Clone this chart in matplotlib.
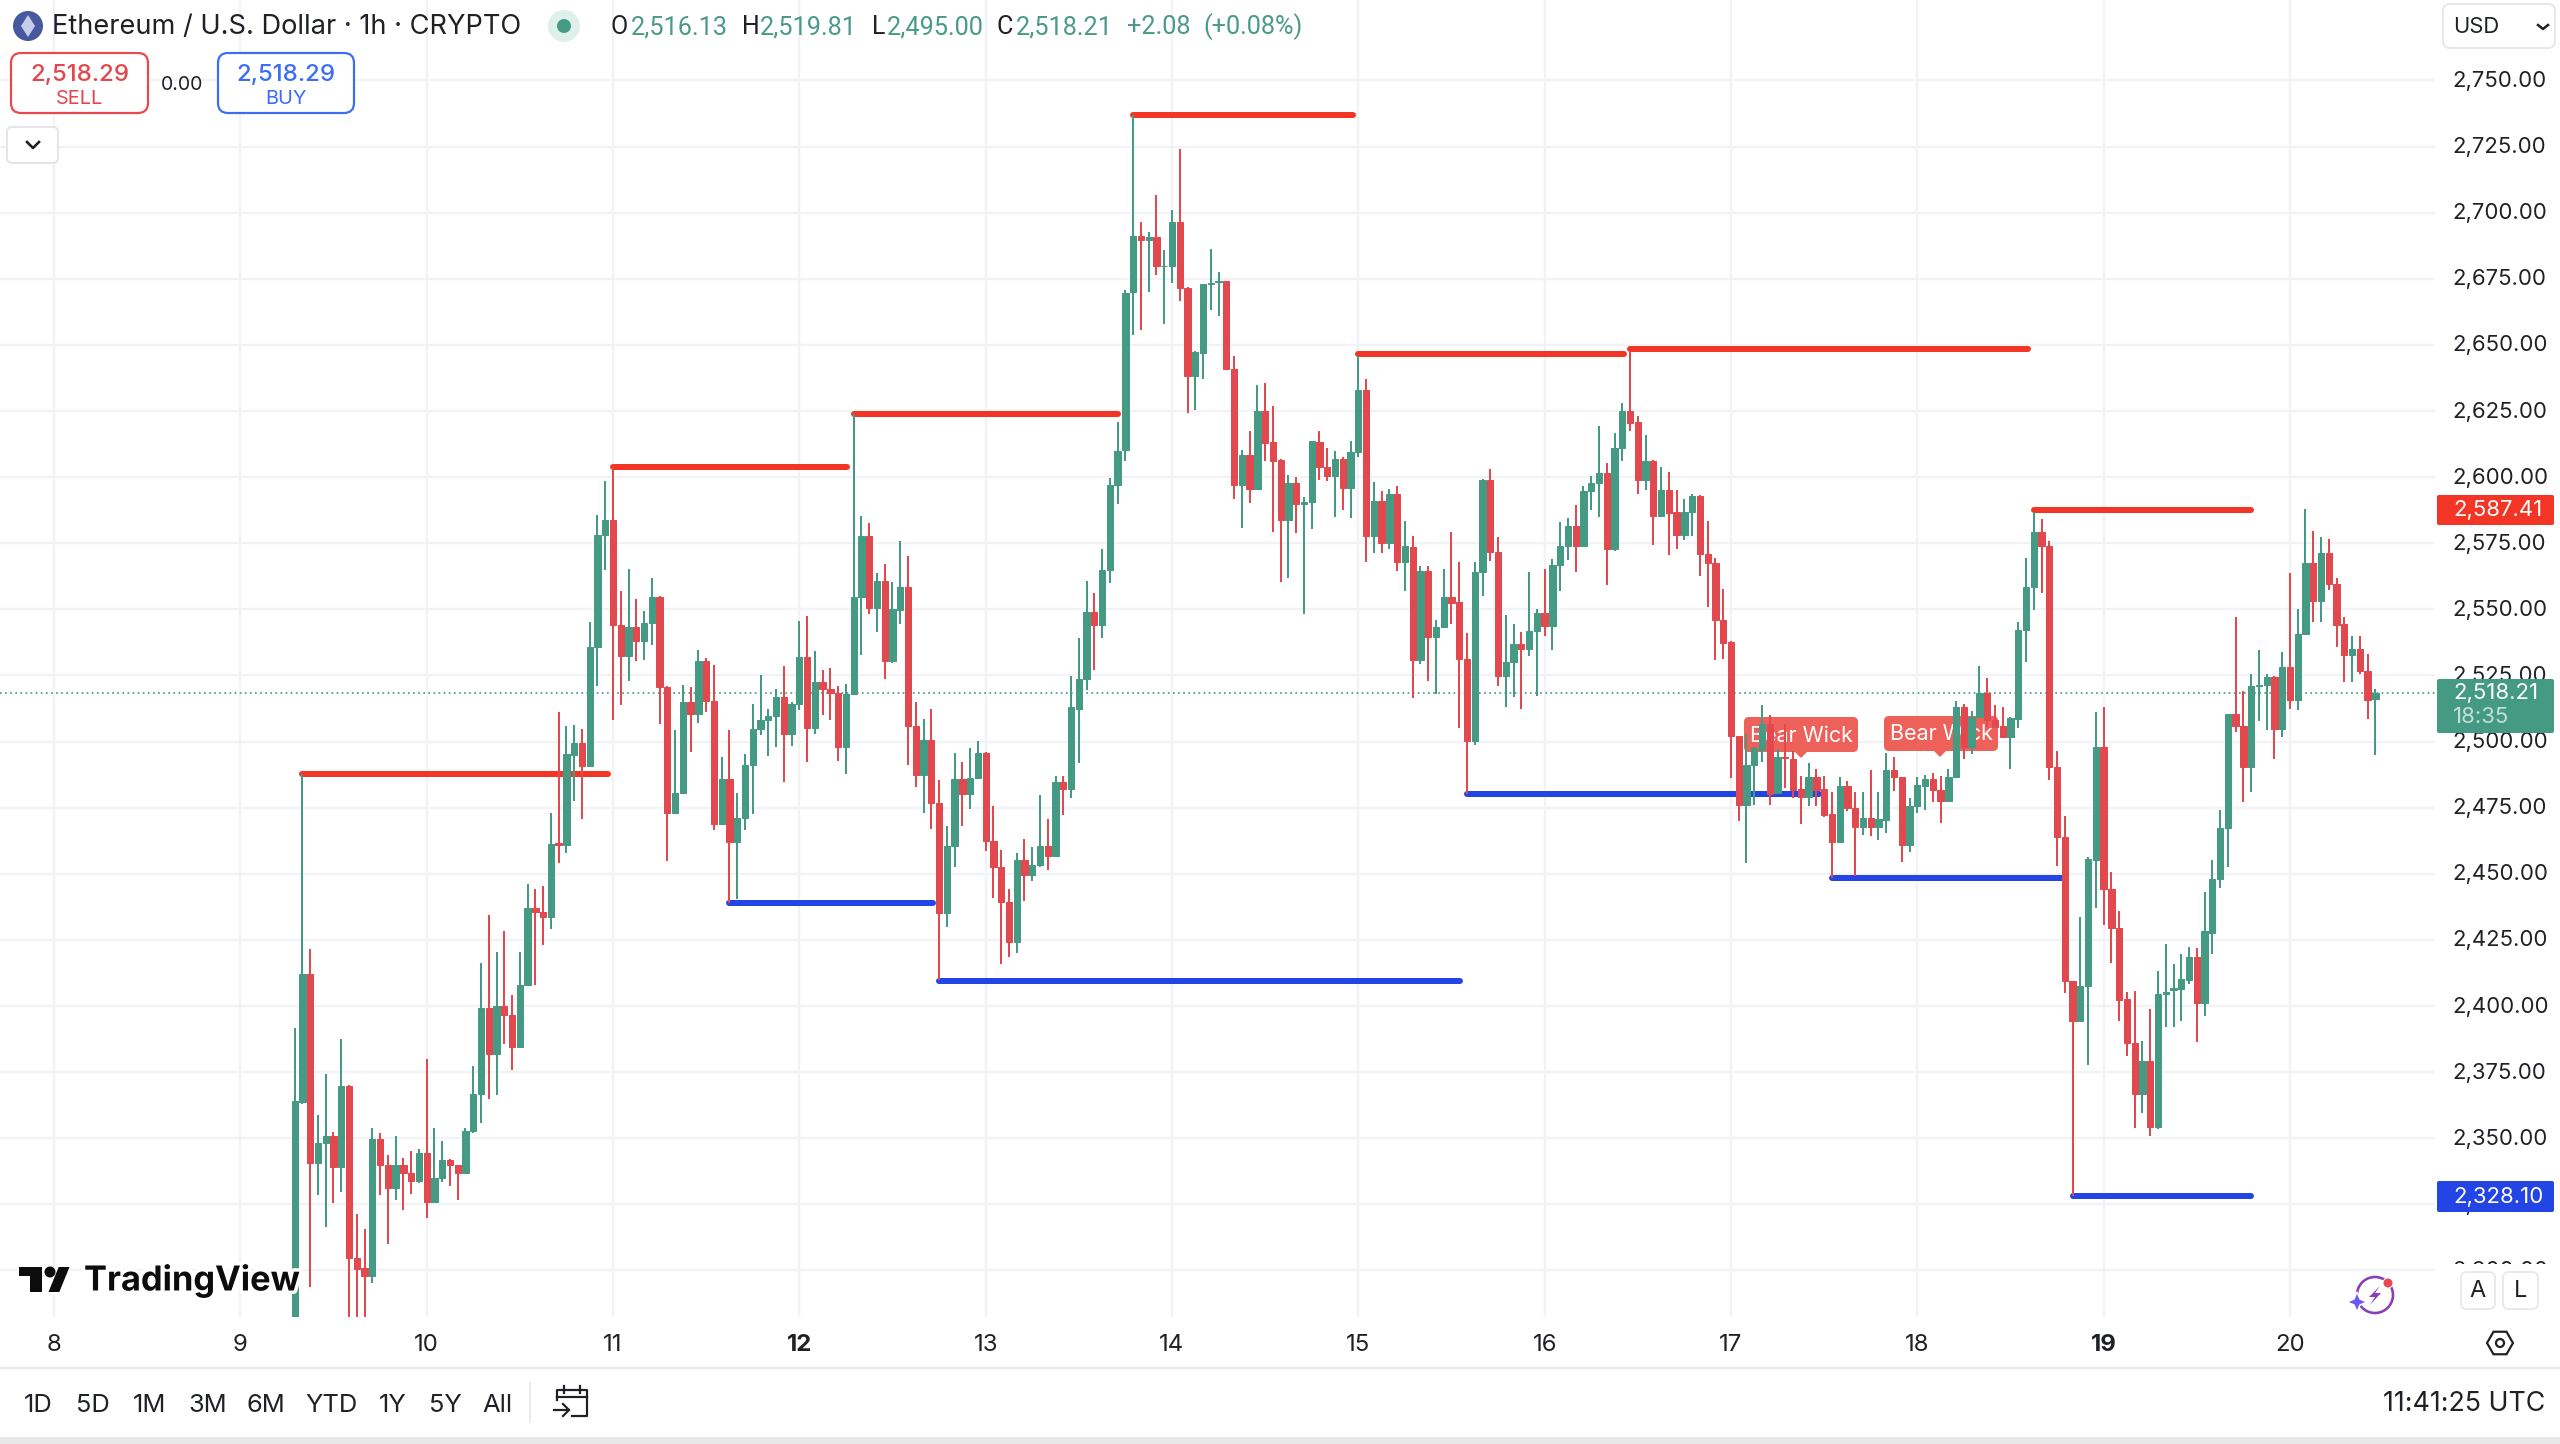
import matplotlib
matplotlib.use("Agg")
import matplotlib.pyplot as plt
from matplotlib.patches import FancyBboxPatch, Rectangle, Circle, Polygon, Ellipse, RegularPolygon, Arc
from matplotlib.ticker import FuncFormatter
from matplotlib.transforms import ScaledTranslation
import matplotlib.patheffects as pe

plt.rcParams['font.family'] = ['Inter', 'DejaVu Sans']

# ---------- data ----------
first_candle_day = 9 + 7 / 24
open_ = [
 2270,2363.7,2412,2340.8,2348.2,2351,2339.3,2369.9,2304.9,2301,
 2297.9,2349.9,2339.7,2331.2,2339.7,2337,2334,2344.6,2326,2335,
 2341.8,2339.7,2336.7,2352.7,2366.9,2399.4,2381.7,2400,2396.6,2384.5,
 2407.9,2437.2,2435.5,2433.8,2461.6,2461,2495,2499.4,2490.7,2535.7,
 2578,2583.9,2544,2532.5,2543.3,2538,2545,2554.6,2520.8,2473,
 2480.7,2515,2510.4,2530.6,2515.5,2469,2485.8,2462,2471,2491,
 2504.7,2508,2509.8,2516.9,2503,2514.4,2532,2505,2522.7,2520,
 2518.3,2497.9,2518,2554.5,2577.7,2550.7,2560.9,2530.6,2549.7,2558.4,
 2506,2487.5,2500.7,2476.8,2435,2460.4,2485.9,2480,2486.2,2495.7,
 2462.6,2452.4,2439.3,2424.4,2455.2,2449.4,2453.2,2460.7,2456.8,2484.6,
 2482,2512.4,2523.8,2549,2544.2,2565,2596.9,2610.1,2669.9,2691.2,
 2689.7,2691,2679.7,2679.7,2696.6,2671.7,2638.4,2647,2672.9,2673.7,
 2674,2641,2596.9,2608.2,2595.6,2625.1,2613.3,2606.6,2583.8,2597.8,
 2589.8,2590.5,2613.3,2604,2600.3,2606.8,2595.9,2609.5,2633,2577.7,
 2591,2575.2,2593.7,2567.9,2573.6,2530.9,2564.5,2539.5,2543.3,2554.6,
 2552.7,2531.3,2500.3,2564.1,2599,2571.7,2524.7,2530,2537,2535,
 2541.8,2548.6,2543.9,2566.6,2573.8,2581.4,2574,2594.7,2597.8,2601.5,
 2573,2610.9,2625.1,2620.8,2598.8,2606.3,2585.2,2595.2,2586.7,2578.1,
 2586.7,2593,2571,2567.5,2545.8,2537.5,2502,2476.1,2491.1,2496.9,
 2506.7,2480.4,2494.3,2493.3,2482.1,2478.9,2486.6,2482.1,2472.6,2461.9,
 2483.2,2474.9,2467.8,2471,2467.6,2470.5,2489.3,2486.5,2460.8,2475.5,
 2483.3,2485.8,2481.8,2477.6,2486.5,2513.2,2497.8,2509.2,2518.3,2508.2,
 2505.8,2501.9,2508.5,2542.1,2558.4,2579.2,2574.1,2490.5,2463.9,2409.4,
 2394.2,2407.7,2455.4,2497.9,2444.1,2429.4,2402.5,2386,2366.6,2379.2,
 2354.4,2404.6,2406.1,2406.3,2410,2418.5,2401.3,2427.7,2448.1,2467.2,
 2510.4,2505.8,2490.5,2521,2521.4,2524.5,2504.9,2528.3,2515.8,2540.6,
 2567.4,2553.3,2571.4,2559.6,2544.5,2532.8,2535.1,2526.8,2516.13]
close = [
 2364,2412,2340.8,2348.2,2351,2339.3,2369.9,2304.9,2300.6,2297.9,
 2349.9,2339.7,2331.2,2339.7,2337,2334,2344.6,2326,2335,2341.8,
 2340,2336.7,2352.9,2366.9,2399.4,2381.7,2400,2396.6,2384.5,2407.9,
 2437.2,2435.5,2433.8,2461.4,2461,2495.3,2499.4,2490.7,2535.7,2578,
 2583.9,2544,2532.5,2543.3,2538,2545,2554.6,2520.8,2473,2480.7,
 2515,2510.4,2530.6,2515.5,2469,2485.8,2462,2471,2491,2504.7,
 2508,2509.8,2516.9,2503,2514.4,2532,2505,2522.7,2520,2518.3,
 2497.9,2518,2554.6,2577.7,2550.7,2560.9,2530.6,2550,2558.4,2506,
 2487.5,2500.7,2476.8,2435,2460.7,2485.9,2480,2486.2,2495.7,2462.6,
 2452.4,2439.3,2424.4,2455.2,2449.4,2453.2,2460.7,2456.8,2484.6,2482,
 2513,2523.8,2549,2544.2,2565,2596.9,2610,2669.6,2691.2,2689.7,
 2690.7,2679.7,2680,2696.6,2671.4,2638.4,2647.2,2672.9,2673.5,2674.3,
 2641,2596.9,2608.2,2595.6,2625.1,2613.1,2606.3,2583.8,2597.8,2589.8,
 2590.6,2613.6,2604,2600.3,2606.8,2595.9,2609.5,2633,2577.7,2591,
 2575.2,2593.7,2567.9,2573.8,2530.9,2564.5,2539.5,2543.5,2554.6,2552.5,
 2531.3,2500.3,2564.1,2599,2571.7,2524.7,2530,2537,2535,2541.8,
 2548.6,2543.9,2566.9,2573.8,2581.4,2574,2594.7,2597.8,2601.5,2573,
 2610.9,2625.1,2620.6,2598.8,2606.3,2585.2,2595.2,2586.5,2578.1,2586.7,
 2593,2571,2567.5,2545.8,2537.4,2502,2476.2,2491.1,2497.6,2506.7,
 2480.2,2494,2493.9,2481.8,2478.9,2486.6,2481.8,2472.4,2461.9,2483.2,
 2474.9,2467.8,2471,2467.6,2470.7,2489.3,2486.5,2460.8,2475.8,2483.6,
 2485.8,2481.8,2477.6,2486.6,2513.2,2497.8,2509.4,2518.3,2508.2,2505.4,
 2501.9,2508.8,2542.1,2558.4,2579.2,2574.1,2490.3,2463.8,2409.4,2394.2,
 2407.7,2455.6,2497.9,2444.1,2429.4,2402.1,2386,2366.6,2379.2,2354.4,
 2404.6,2405.4,2406.7,2410.3,2418.5,2401.3,2428.2,2448.1,2467.2,2510.4,
 2505.8,2490.5,2520.9,2521.5,2524.5,2504.9,2528.3,2515.8,2540.6,2567.4,
 2553.3,2571.4,2559.6,2544.1,2532.7,2535.1,2526.6,2515.6,2518.21]
high = [
 2391.7,2487.7,2421.7,2358.8,2374.3,2352.4,2387.6,2370.2,2321.2,2315.7,
 2354,2352,2343.7,2351,2342.5,2345.2,2346,2380,2354,2348.8,
 2342,2340,2354,2377.5,2416.3,2434.6,2420.4,2428.2,2404,2420.4,
 2446,2444.4,2445.4,2473,2511.3,2506,2506.4,2504.9,2545.2,2585.8,
 2598.7,2604,2556.9,2565.4,2554,2549.5,2562,2555.2,2521,2504.5,
 2521.4,2520.8,2534.6,2531.6,2529,2494,2504.5,2480.5,2495.3,2514.4,
 2525,2512.5,2519.8,2528.4,2515,2545.5,2547.6,2534.4,2527,2527.7,
 2521.2,2521.6,2623.7,2585.3,2582.7,2563.9,2567.2,2560.4,2575.8,2570.3,
 2515.1,2508.6,2512.3,2485.3,2467.9,2495.7,2492.1,2497.6,2500.2,2496.1,
 2475.6,2459,2444.2,2458,2463,2460.3,2479.7,2470.8,2486.9,2487,
 2524.8,2539,2560.9,2556.2,2572.9,2599.8,2621,2670.6,2737.1,2696.5,
 2692.6,2706.7,2686,2701,2724.2,2671.9,2647.7,2673.1,2686.4,2677.7,
 2674.3,2645.9,2610.4,2617.3,2634.8,2635.6,2626.9,2606.8,2600.8,2600.2,
 2592.5,2613.8,2617.3,2611,2610,2607.8,2613.6,2645.9,2637.2,2598,
 2594.9,2595.5,2596.5,2583.6,2577.6,2566.5,2566.5,2545.8,2565.2,2579.2,
 2568.1,2541.1,2568.1,2599.3,2602.9,2577.3,2548,2544.3,2541.4,2564.1,
 2550,2565.4,2569.1,2583.1,2584.4,2589.6,2596.8,2600.5,2619.5,2605.3,
 2616.8,2628.2,2647.5,2623.2,2615.8,2606.6,2603.9,2601.9,2595.2,2591.8,
 2593.5,2593.2,2583.4,2569.4,2557.8,2537.9,2502.2,2502.9,2498,2513.8,
 2510,2497.2,2506.7,2496.3,2487.1,2491.9,2489.6,2487.1,2480.8,2486.5,
 2485.2,2481,2480.8,2489.3,2480.8,2495.7,2494.3,2486.7,2478.7,2486.5,
 2487.5,2488,2487.1,2489.6,2515.2,2514.2,2511.4,2528.7,2524,2514,
 2513.2,2509.2,2545.1,2569.5,2586.7,2584.2,2575.8,2496.3,2472,2409.6,
 2433.7,2456.3,2511.3,2513.2,2450.7,2436,2405.4,2405.6,2386.9,2399,
 2413.4,2423.3,2416,2419.8,2422.4,2421.9,2443.3,2455.1,2474.2,2510.6,
 2547,2519.1,2525.4,2534.7,2525.7,2524.7,2534,2563.9,2550,2587.8,
 2579.5,2577.4,2576.6,2562,2547,2540.1,2540.1,2533.2,2519.81]
low = [
 2265,2363,2293.6,2328.7,2316.6,2325.5,2329.7,2270,2275,2275,
 2295.3,2328.4,2310,2326.5,2323,2329,2333,2319.7,2326,2333.3,
 2331.8,2326.5,2336.7,2352,2355.6,2364.8,2366.2,2385.6,2375.8,2384.5,
 2407.9,2407.9,2423,2429.3,2454,2457.8,2477.5,2470.9,2490.7,2521.2,
 2564.8,2508,2513.8,2523,2530.4,2530.8,2536.7,2506.6,2455,2473,
 2480.7,2496.2,2507,2511.3,2466.7,2469,2439,2440.5,2466.5,2472.8,
 2502.5,2494.4,2497.8,2484.6,2498.3,2511.8,2492.3,2503,2510,2508.2,
 2492.5,2487.9,2518,2532.6,2548.3,2541.5,2523.8,2529.9,2544.4,2491.2,
 2482.8,2473,2467,2409.7,2429.9,2452.7,2468.2,2474.4,2486.2,2458.7,
 2440.9,2416,2418.7,2420,2439.6,2447.2,2452.7,2451.4,2456.8,2472.3,
 2478.8,2491.8,2519.5,2526.9,2539.3,2560,2590,2606,2653.9,2655.5,
 2670,2676.3,2657.9,2673.4,2666.7,2624.1,2625.3,2637,2663.3,2660.9,
 2640.4,2591.8,2580.7,2590.2,2595.6,2606,2579.3,2560.2,2561.8,2579,
 2548.3,2580.4,2599,2598.5,2584.8,2587.4,2584.4,2607.7,2567.9,2571.5,
 2571.3,2572.9,2564.5,2557,2516.6,2529.4,2522.9,2518.1,2543.1,2544.5,
 2505,2480.2,2498.9,2554.9,2568.3,2521.2,2513,2517,2512.4,2532.3,
 2517.2,2539.9,2534.7,2556.9,2568.5,2564.2,2574,2587.4,2584.9,2559.2,
 2572,2606.3,2617.6,2593.6,2595,2574.3,2585.2,2570.6,2572.7,2576.3,
 2577.7,2562.6,2550.9,2530.7,2531.2,2486.2,2470,2454,2476.1,2492.4,
 2475.9,2480.2,2482.4,2478.7,2468.8,2475.5,2475.5,2471.3,2448.6,2461.7,
 2473.9,2449.3,2464.7,2464.4,2462.8,2465.3,2481.2,2454.3,2458.1,2472.9,
 2474.1,2477,2469.1,2477.6,2486.5,2493.4,2495.3,2509.2,2505.4,2505.2,
 2501.6,2489.6,2505,2530.2,2549.8,2556.1,2485.5,2452.8,2405.1,2328.2,
 2394,2377.8,2437.2,2430.8,2416.4,2394.2,2381,2353.9,2359.4,2350.8,
 2353.4,2392.1,2392.1,2394.2,2408.2,2386.5,2396.1,2419.8,2444.5,2452.5,
 2503.7,2477.1,2481.1,2507.8,2504.4,2493.6,2501.8,2512.3,2511.8,2540.6,
 2545.1,2545.3,2557.3,2535.6,2522.6,2522.6,2525.5,2508.7,2495]

res_levels = [2487.7, 2604.0, 2623.7, 2737.1, 2646.5, 2648.3, 2587.41]
res_from = [1, 41, 72, 108, 137, 172, 224]
res_to = [40.3, 71.2, 106, 136.3, 171.2, 223.2, 252]
sup_levels = [2439.1, 2409.3, 2480.0, 2448.6, 2328.10]
sup_from = [56, 83, 151, 198, 229]
sup_to = [82.2, 150.1, 196.3, 227.6, 252]
last_price = 2518.21
price_ticks = list(range(2300, 2775, 25))
day_ticks = list(range(8, 21))
bold_days = [12, 19]

# ---------- colours ----------
GREEN = '#459a84'
RED = '#e2494e'
GRID = '#f1f3f6'
TXT = '#1f2126'
SWR = '#f23524'
SWB = '#2445e6'
FS = lambda px: px * 0.72

W, H = 2560, 1444
PANE_R, PANE_B = 2435, 1317
fig = plt.figure(figsize=(W / 100, H / 100), dpi=100, facecolor='white')
ax = fig.add_axes([0, (H - PANE_B) / H, PANE_R / W, PANE_B / H], zorder=1)
ov = fig.add_axes([0, 0, 1, 1], zorder=10)
ov.set_xlim(0, W); ov.set_ylim(H, 0); ov.axis('off'); ov.patch.set_alpha(0)
PX = ov.transData

# scales
ax.set_xlim(8 - 54 / 186.33, 8 + (PANE_R - 54) / 186.33)
ax.set_ylim(2750 - (PANE_B - 80.5) / 2.6444, 2750 + 80.5 / 2.6444)
for s in ax.spines.values():
    s.set_visible(False)
ax.set_axisbelow(True)
ax.grid(True, color=GRID, lw=FS(2.4))
ax.yaxis.tick_right()
ax.set_yticks(price_ticks)
ax.yaxis.set_major_formatter(FuncFormatter(lambda v, _: f'{v:,.2f}'))
ax.tick_params(axis='y', length=0, pad=FS(17), labelsize=FS(22.2), labelcolor=TXT)
ax.set_xticks(day_ticks)
ax.set_xticklabels([str(d) for d in day_ticks])
ax.tick_params(axis='x', length=0, pad=FS(17), labelsize=FS(24), labelcolor=TXT)
for lab, d in zip(ax.get_xticklabels(), day_ticks):
    if d in bold_days:
        lab.set_fontweight('bold')
lift = ScaledTranslation(0, 1.5 / 100, fig.dpi_scale_trans)
for tick in ax.yaxis.get_major_ticks():
    tick.label2.set_transform(tick.label2.get_transform() + lift)

# candles
dt = 1 / 24
xs = [first_candle_day + i * dt for i in range(len(close))]
bw = 6.3 / 186.33
cols = [GREEN if c >= o else RED for o, c in zip(open_, close)]
ax.vlines(xs, low, high, colors=cols, lw=FS(2.0), zorder=3)
ax.bar(xs, [c - o for o, c in zip(open_, close)], bottom=open_, width=bw,
       color=cols, edgecolor=cols, linewidth=FS(1), zorder=3.2)

# swing lines
for lev, a, b in zip(res_levels, res_from, res_to):
    ax.plot([first_candle_day + a * dt, first_candle_day + b * dt], [lev, lev],
            color=SWR, lw=FS(6), solid_capstyle='round', zorder=2)
for lev, a, b in zip(sup_levels, sup_from, sup_to):
    ax.plot([first_candle_day + a * dt, first_candle_day + b * dt], [lev, lev],
            color=SWB, lw=FS(6), solid_capstyle='round', zorder=2)
ax.axhline(last_price, color=GREEN, lw=FS(1.7), ls=(0, (1, 2)), zorder=2.2)


def rbox(a, x0, y0, x1, y1, r, **kw):
    p = FancyBboxPatch((x0 + r, y0 + r), x1 - x0 - 2 * r, y1 - y0 - 2 * r,
                       boxstyle=f'round,pad={r}', transform=PX, **kw)
    a.add_patch(p)
    return p


# Bear Wick labels, below the candles
LBL = '#ee605a'
for x0, y0, x1, y1, tx in [(1744, 717, 1858, 752, 1801), (1884, 716, 1998, 751, 1940)]:
    rbox(ax, x0, y0, x1, y1, 5, fc=LBL, ec='none', zorder=2.5, clip_on=False)
    ax.add_patch(Polygon([(tx - 7, y1 - 1), (tx + 7, y1 - 1), (tx, y1 + 6)], closed=True, fc=LBL, ec='none',
                         transform=PX, zorder=2.5))
    ax.text((x0 + x1) / 2, (y0 + y1) / 2 + 1, 'Bear Wick', color='white', fontsize=FS(21.5), ha='center',
            va='center', transform=PX, zorder=2.6)

# ---------- price axis overlays ----------
ov.add_patch(Rectangle((2436, 1264), 124, 54, fc='white', ec='none'))
for y0, y1, c, t in [(495, 525, SWR, '2,587.41'), (1181, 1212, SWB, '2,328.10')]:
    rbox(ov, 2437, y0, 2554, y1, 2, fc=c, ec='none')
    ov.text(2453, (y0 + y1) / 2 + 0.5, t, color='white', fontsize=FS(22.2), va='center', ha='left')
rbox(ov, 2437, 679, 2554, 733, 2, fc=GREEN, ec='none')
ov.text(2453, 693, '2,518.21', color='white', fontsize=FS(22.2), va='center', ha='left')
ov.text(2453, 717, '18:35', color='#c4e0d8', fontsize=FS(22.2), va='center', ha='left')
rbox(ov, 2443, 4, 2555, 48, 7, fc='white', ec='#e6e8ec', lw=FS(2))
ov.text(2453, 27, 'USD', color=TXT, fontsize=FS(22), va='center', ha='left')
ov.plot([2538, 2543, 2548], [25, 29, 25], color=TXT, lw=FS(2.5))

# ---------- header ----------
HY = 27
ov.add_patch(Circle((28, HY - 1), 15, fc='#47589f', ec='none'))
ov.add_patch(Polygon([(28, HY - 12), (35, HY - 1), (28, HY + 10), (21, HY - 1)], closed=True, fc='#c5cdea', ec='none'))
ov.text(52, HY, 'Ethereum / U.S. Dollar · 1h · CRYPTO', color=TXT, fontsize=FS(27.2), va='center', ha='left')
ov.add_patch(Ellipse((564, HY - 1), 32, 32, fc='#dff0ea', ec='none'))
ov.add_patch(Circle((564, HY - 1), 7, fc=GREEN, ec='none'))
VAL = '#4a9b86'
for x, t, c, s in [(611, 'O', TXT, 25), (631, '2,516.13', VAL, 25.2), (742, 'H', TXT, 25), (760, '2,519.81', VAL, 25.2),
                   (872, 'L', TXT, 25), (887, '2,495.00', VAL, 25.2), (997, 'C', TXT, 25), (1016, '2,518.21', VAL, 25.2),
                   (1127, '+2.08', VAL, 25.2), (1203, '(+0.08%)', VAL, 25.2)]:
    ov.text(x, HY, t, color=c, fontsize=FS(s), va='center', ha='left', family=['Roboto', 'DejaVu Sans'])

rbox(ov, 11, 53, 148, 113, 10, fc='white', ec='#e8484e', lw=FS(2.2))
ov.text(79.5, 75, '2,518.29', color='#e2474d', fontsize=FS(24), fontweight='medium', va='center', ha='center')
ov.text(79.5, 99, 'SELL', color='#e2474d', fontsize=FS(20), va='center', ha='center')
ov.text(182, 85, '0.00', color=TXT, fontsize=FS(19.5), va='center', ha='center')
rbox(ov, 218, 53, 354, 113, 10, fc='white', ec='#3d6df5', lw=FS(2.2))
ov.text(286, 75, '2,518.29', color='#3d6df5', fontsize=FS(24), fontweight='medium', va='center', ha='center')
ov.text(286, 99, 'BUY', color='#3d6df5', fontsize=FS(20), va='center', ha='center')
rbox(ov, 7, 127, 58, 163, 5, fc='white', ec='#e3e5e9', lw=FS(2))
ov.plot([27, 33, 39], [142, 148, 142], color=TXT, lw=FS(2.6))

# ---------- watermark ----------
halo = [pe.withStroke(linewidth=FS(7), foreground='white')]
for poly in [[(18, 1266), (43, 1266), (43, 1293), (29, 1293), (29, 1277), (18, 1277)],
             [(58, 1266), (71, 1266), (60, 1293), (47, 1293)]]:
    ov.add_patch(Polygon(poly, closed=True, fc='#0c0c0d', ec='white', lw=FS(2)))
ov.add_patch(Circle((50, 1272), 5.5, fc='#0c0c0d', ec='none'))
ov.text(84, 1281, 'TradingView', color='#0c0c0d', fontsize=FS(34.4), fontweight='bold', va='center', ha='left',
        path_effects=halo)

# ---------- bottom bar ----------
ov.plot([0, W], [1368, 1368], color='#e9ebee', lw=FS(2.5))
ov.add_patch(Rectangle((0, 1437), W, 7, fc='#e8e8e8', ec='none'))
for x, t in zip([38, 93, 150, 208, 266, 331, 393, 445, 497],
                ['1D', '5D', '1M', '3M', '6M', 'YTD', '1Y', '5Y', 'All']):
    ov.text(x, 1405, t, color=TXT, fontsize=FS(25.5), va='center', ha='center')
ov.plot([530, 530], [1383, 1422], color='#e9ebee', lw=FS(2))
ov.plot([557, 557, 587, 587, 572], [1400, 1390, 1390, 1416, 1416], color=TXT, lw=FS(2.2))
ov.plot([557, 587], [1397, 1397], color=TXT, lw=FS(2.2))
ov.plot([564, 564], [1386, 1393], color=TXT, lw=FS(2.2))
ov.plot([580, 580], [1386, 1393], color=TXT, lw=FS(2.2))
ov.plot([554, 569], [1410, 1410], color=TXT, lw=FS(2.2))
ov.plot([563, 569, 563], [1404, 1410, 1416], color=TXT, lw=FS(2.2))
ov.text(2545, 1404, '11:41:25 UTC', color=TXT, fontsize=FS(26.8), va='center', ha='right')

# ---------- corner controls ----------
for x0, x1, t in [(2461, 2495, 'A'), (2503, 2538, 'L')]:
    rbox(ov, x0, 1272, x1, 1309, 6, fc='white', ec='#e8eaee', lw=FS(2))
    ov.text((x0 + x1) / 2, 1291, t, color=TXT, fontsize=FS(23.5), va='center', ha='center')
ov.add_patch(RegularPolygon((2500, 1343), 6, radius=13, orientation=3.14159 / 6, fc='none', ec=TXT, lw=FS(2.2)))
ov.add_patch(Circle((2500, 1343), 4, fc='none', ec=TXT, lw=FS(2.2)))
ov.add_patch(Arc((2375, 1295), 36, 36, theta1=0, theta2=360, ec='#8a3fb8', lw=FS(2.6)))
ov.add_patch(Polygon([(2380, 1286), (2369, 1297), (2375, 1297), (2370, 1305), (2381, 1293), (2375, 1293)],
                     closed=True, fc='#8a3fb8', ec='none'))
ov.add_patch(Polygon([(2357, 1292), (2360, 1299), (2367, 1302), (2360, 1305), (2357, 1312),
                      (2354, 1305), (2347, 1302), (2354, 1299)], closed=True, fc='#6a5af0', ec='white', lw=FS(1.5)))
ov.add_patch(Circle((2388, 1283), 5, fc='#e8484e', ec='white', lw=FS(1)))

fig.savefig('out.png', dpi=100)
